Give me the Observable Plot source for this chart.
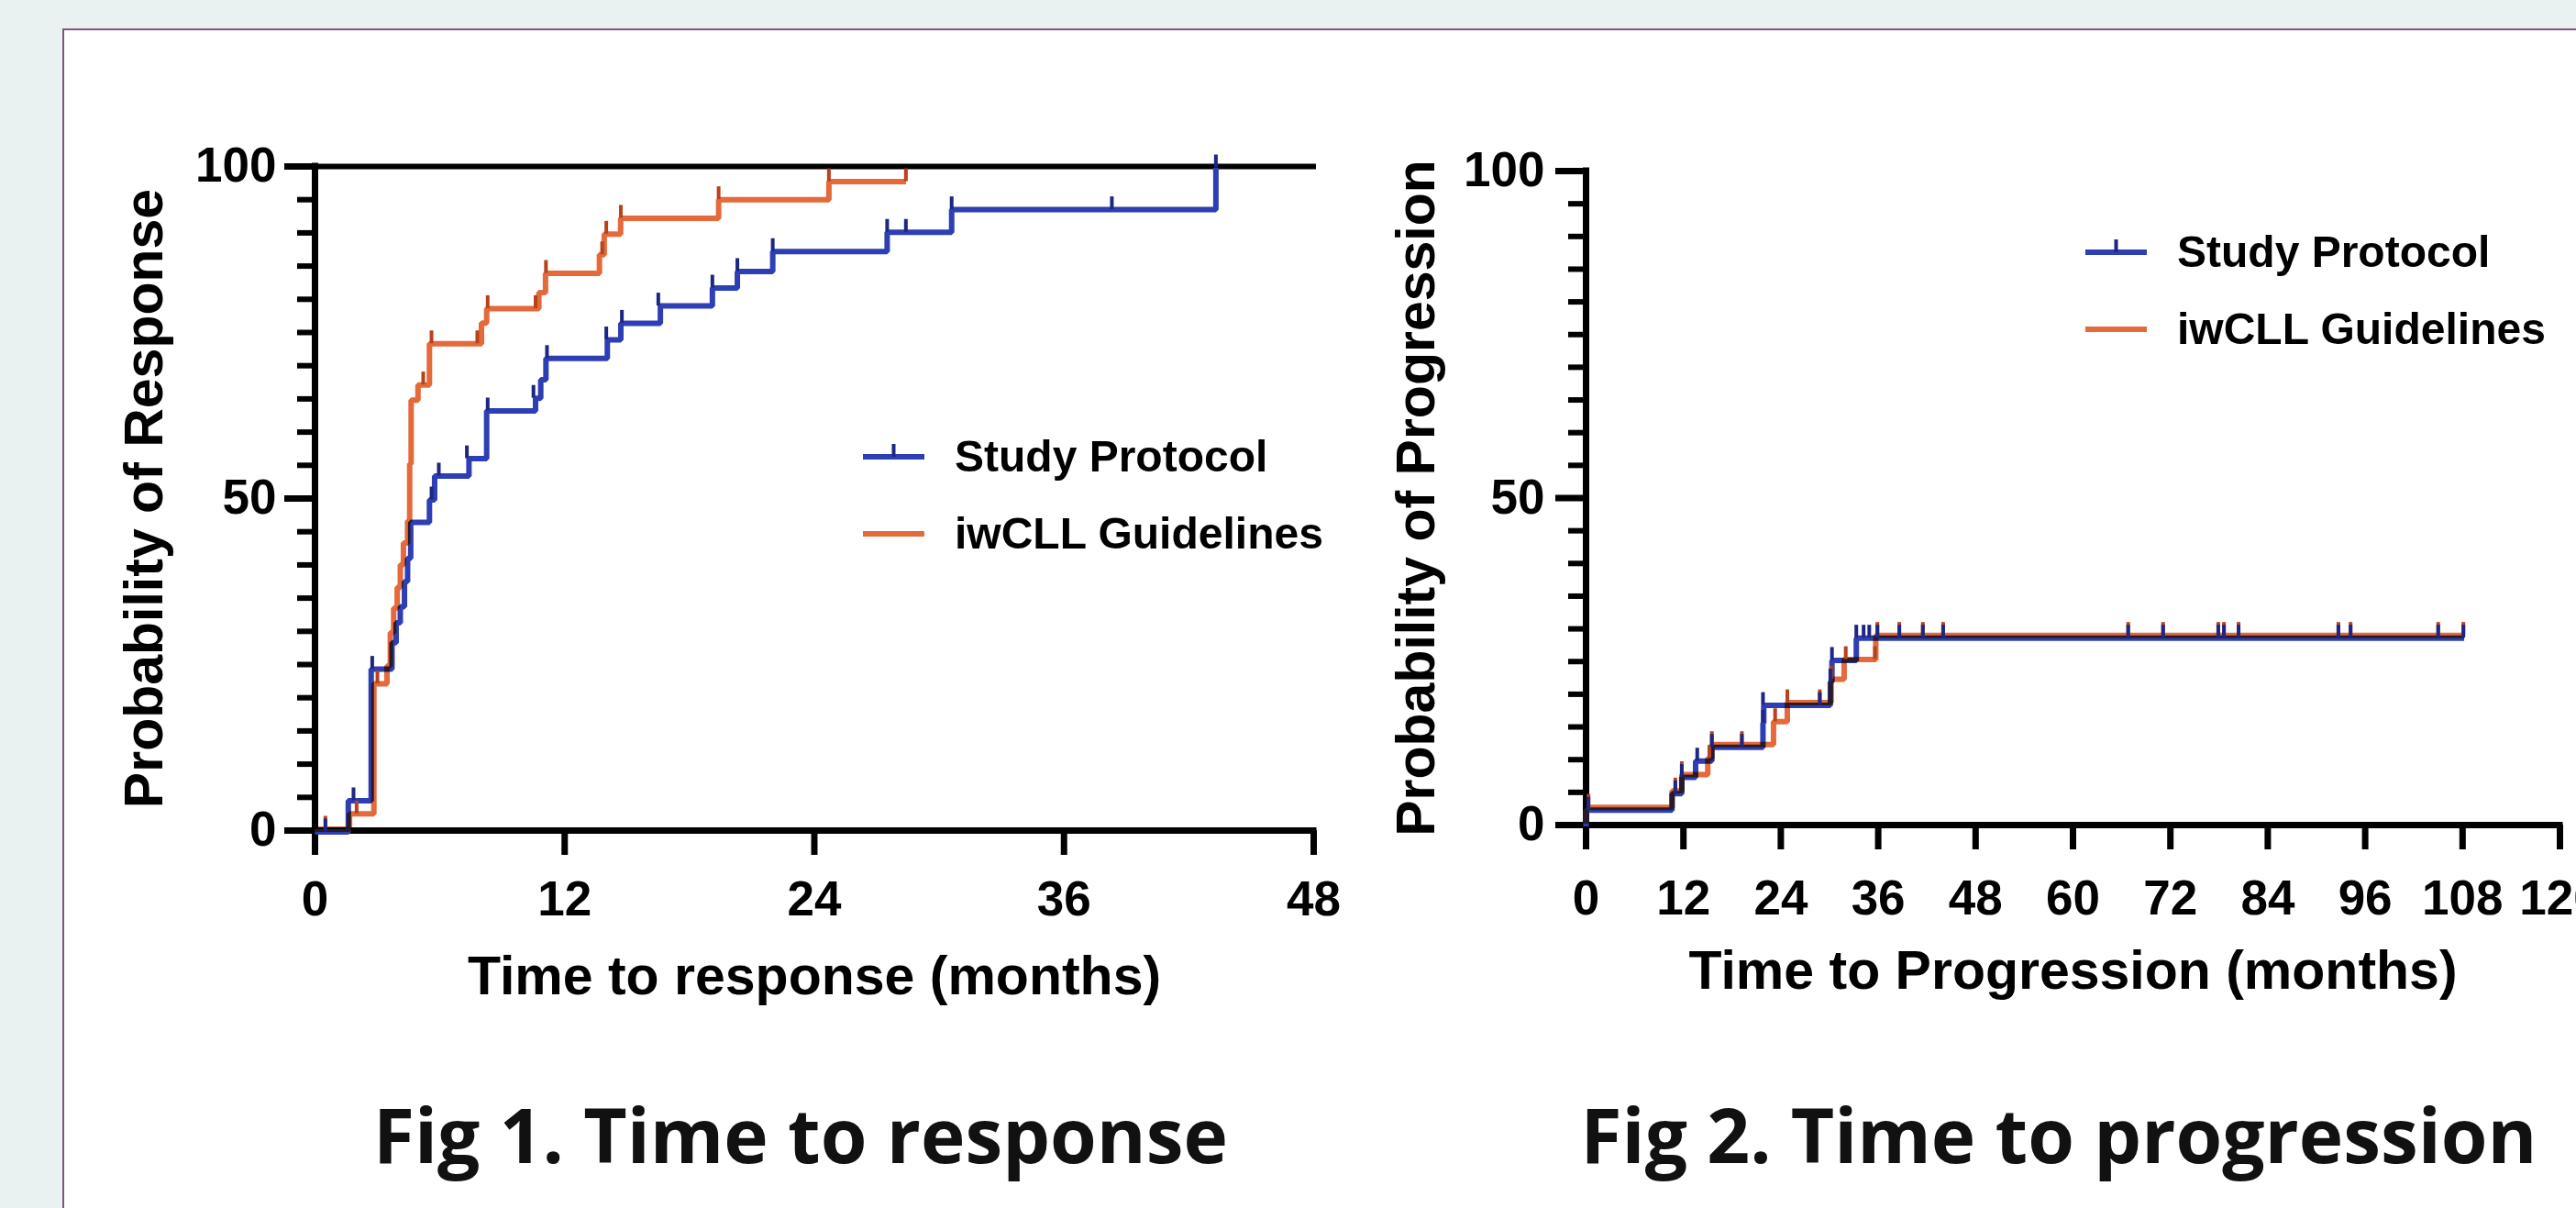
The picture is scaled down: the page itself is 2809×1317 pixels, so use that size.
<!DOCTYPE html>
<html>
<head>
<meta charset="utf-8">
<script src="https://cdn.jsdelivr.net/npm/d3@7"></script>
<script src="https://cdn.jsdelivr.net/npm/@observablehq/plot@0.6"></script>
<style>
  html, body { margin: 0; padding: 0; width: 2809px; height: 1317px; overflow: hidden; background: #e9f2f1; }
  #panel { position: absolute; left: 68px; top: 31px; width: 2800px; height: 1400px; background: #ffffff;
           border-top: 2px solid #7e557e; border-left: 2px solid #7e557e; box-sizing: border-box; }
  .chart { position: absolute; top: 0; }
  .chart svg { max-width: none; overflow: visible; }
  .figtitle { position: absolute; top: 1195px; width: 1200px; text-align: center; font-family: "Open Sans", sans-serif;
              font-weight: 700; font-size: 82px; line-height: 1; color: #111; white-space: nowrap; }
  .legend-item { position: absolute; height: 60px; display: flex; align-items: center; }
  .legend-item span { margin-left: 33px; font-family: "Liberation Sans", Arial, sans-serif; font-weight: bold;
                      font-size: 48px; line-height: 1; color: #000; white-space: nowrap; }
</style>
</head>
<body>
<div id="panel"></div>
<div id="chart1" class="chart" style="left:0px"></div>
<div id="chart2" class="chart" style="left:1400px"></div>
<div id="legends"></div>
<div id="title1" class="figtitle" style="left:273px"></div>
<div id="title2" class="figtitle" style="left:1645px"></div>
<script>
// ---------- text ----------
const seriesNames = ["Study Protocol", "iwCLL Guidelines"];
const figTitles = ["Fig 1. Time to response", "Fig 2. Time to progression"];
const xTitles = ["Time to response (months)", "Time to Progression (months)"];
const yTitles = ["Probability of Response", "Probability of Progression"];

// ---------- ticks ----------
const xTicks1 = [0, 12, 24, 36, 48];
const xTicks2 = [0, 12, 24, 36, 48, 60, 72, 84, 96, 108, 120];
const yMajorTicks = [0, 50, 100];
const yMinorTicks = [5, 10, 15, 20, 25, 30, 35, 40, 45, 55, 60, 65, 70, 75, 80, 85, 90, 95];

// ---------- Fig 1: time to response (steps: month, %) ----------
const spTime1 = [0, 1.6, 2.7, 3.7, 3.9, 4.1, 4.3, 4.45, 4.6, 5.5, 5.75, 7.4, 8.25, 10.6, 10.85, 11.1, 14.05, 14.7, 16.6, 19.1, 20.3, 22.0, 27.5, 30.6, 43.3];
const spProb1 = [0, 4.7, 24.5, 28.5, 31.5, 33.9, 37.7, 41.2, 46.6, 50.0, 53.6, 56.2, 63.4, 65.3, 68.1, 71.3, 74.1, 76.6, 79.2, 81.9, 84.4, 87.4, 90.3, 93.7, 100];
const spCensT1 = [0.5, 1.85, 2.75, 5.6, 5.95, 7.3, 8.3, 10.5, 11.15, 14.0, 14.75, 16.5, 19.1, 20.3, 22.0, 27.5, 28.4, 30.6, 38.3, 43.3];
const spCensP1 = [0, 4.7, 24.5, 50.0, 53.6, 56.2, 63.4, 65.3, 71.3, 74.1, 76.6, 79.2, 81.9, 84.4, 87.4, 90.3, 90.3, 93.7, 93.7, 100];

const iwTime1 = [0, 1.66, 2.83, 3.46, 3.62, 3.78, 3.95, 4.1, 4.25, 4.45, 4.55, 4.62, 4.95, 5.5, 8.0, 8.25, 10.76, 11.08, 13.67, 13.9, 14.69, 19.4, 24.7, 28.4];
const iwProb1 = [0, 2.3, 21.9, 24.6, 29.6, 33.3, 36.4, 39.8, 43.1, 46.4, 55.0, 64.6, 66.9, 73.1, 76.2, 78.4, 80.8, 83.7, 86.5, 89.6, 92.0, 94.8, 97.5, 97.5];
const iwCensT1 = [0.5, 2.0, 3.0, 5.2, 5.6, 7.8, 8.3, 10.6, 11.1, 13.8, 14.0, 14.7, 19.4, 24.7, 28.4];
const iwCensP1 = [0, 2.3, 21.9, 66.9, 73.1, 73.1, 78.4, 78.4, 83.7, 86.5, 89.6, 92.0, 94.8, 97.5, 97.5];

// ---------- Fig 2: time to progression ----------
const spTime2 = [0, 0, 10.6, 11.8, 13.5, 15.5, 21.8, 21.9, 30.1, 30.3, 33.3, 108.2];
const spProb2 = [0, 2.5, 5.0, 7.5, 10.0, 12.1, 15.8, 18.5, 22.1, 25.4, 28.8, 28.8];
const spCensT2 = [0.3, 11.0, 11.8, 13.7, 15.5, 19.2, 21.8, 21.8, 28.8, 30.1, 30.3, 33.3, 34.2, 34.9, 35.9, 38.6, 41.5, 44.0, 66.8, 71.1, 77.9, 78.6, 80.4, 92.7, 94.2, 105.0, 108.1];
const spCensP2 = [2.5, 5.0, 7.5, 10.0, 12.1, 12.1, 15.8, 18.5, 18.5, 22.1, 25.4, 28.8, 28.8, 28.8, 28.8, 28.8, 28.8, 28.8, 28.8, 28.8, 28.8, 28.8, 28.8, 28.8, 28.8, 28.8, 28.8];

const iwTime2 = [0, 0, 10.6, 11.8, 15.0, 15.5, 23.1, 24.8, 30.2, 31.8, 35.7, 108.2];
const iwProb2 = [0, 2.5, 5.0, 7.5, 10.0, 12.1, 15.6, 18.5, 22.1, 25.1, 28.8, 28.8];
const iwCensT2 = [0.3, 11.0, 11.8, 15.2, 15.5, 19.2, 23.3, 24.8, 28.8, 30.2, 32.0, 35.6, 35.9, 38.6, 41.5, 44.0, 66.8, 71.1, 77.9, 78.6, 80.4, 92.7, 94.2, 105.0, 108.1];
const iwCensP2 = [2.5, 5.0, 7.5, 10.0, 12.1, 12.1, 15.6, 18.5, 18.5, 22.1, 25.1, 25.1, 28.8, 28.8, 28.8, 28.8, 28.8, 28.8, 28.8, 28.8, 28.8, 28.8, 28.8, 28.8, 28.8];

// ---------- style ----------
const BLUE = "#2e3fb5", BLUE_DARK = "#1d2783";
const ORANGE = "#e4693b", ORANGE_DARK = "#b8421c";
const AXIS_FONT = "'Liberation Sans', Arial, sans-serif";

const zip = (t, p) => t.map((d, i) => ({t: d, p: p[i]}));

function makeChart(o) {
  const marks = [
    Plot.ruleY([0], {strokeWidth: 7, strokeLinecap: "square"}),
    Plot.ruleX([0], {strokeWidth: 7, strokeLinecap: "square"}),
  ];
  if (o.topRule) marks.push(Plot.ruleY([100], {strokeWidth: 6, strokeLinecap: "square"}));
  marks.push(
    Plot.axisX({ticks: o.xTicks, tickSize: 27, tickPadding: o.xPad, strokeWidth: 7, fontSize: 53, fontWeight: "bold",
                tickFormat: d => String(d), label: null}),
    Plot.axisY({ticks: yMinorTicks, tickSize: 19, strokeWidth: 6, tickFormat: () => "", label: null}),
    Plot.axisY({ticks: yMajorTicks, tickSize: 33, tickPadding: o.yPad, strokeWidth: 7, fontSize: 53, fontWeight: "bold",
                tickFormat: d => String(d), label: null}),
    Plot.text([o.yTitle], {frameAnchor: "left", dx: o.yTitleDx, rotate: -90, textAnchor: "middle", lineAnchor: "middle",
                           fontSize: 59, fontWeight: "bold"}),
    Plot.text([o.xTitle], {frameAnchor: "bottom", dy: 160, textAnchor: "middle", lineAnchor: "middle",
                           fontSize: 59, fontWeight: "bold"}),
    Plot.line(zip(o.spT, o.spP), {x: "t", y: "p", curve: "step-after", stroke: BLUE, strokeWidth: 6,
              strokeLinejoin: "miter", strokeLinecap: "butt", dy: 1.5}),
    Plot.line(zip(o.iwT, o.iwP), {x: "t", y: "p", curve: "step-after", stroke: ORANGE, strokeWidth: 6,
              strokeLinejoin: "miter", strokeLinecap: "butt", dy: -1.5, mixBlendMode: "multiply"}),
    Plot.ruleX(zip(o.iwCT, o.iwCP), {x: "t", y1: "p", y2: "p", insetTop: -14, stroke: ORANGE_DARK, strokeWidth: 4, dy: -1.5}),
    Plot.ruleX(zip(o.spCT, o.spCP), {x: "t", y1: "p", y2: "p", insetTop: -14, stroke: BLUE_DARK, strokeWidth: 4, dy: 1.5})
  );
  return Plot.plot({
    width: o.width, height: 1120,
    marginLeft: o.ml, marginRight: o.mr, marginTop: o.mt, marginBottom: 1120 - o.y0,
    x: {domain: o.xDomain, label: null},
    y: {domain: [0, 100], label: null},
    style: {fontFamily: AXIS_FONT, background: "transparent", overflow: "visible", color: "#000"},
    marks
  });
}

document.getElementById("chart1").appendChild(makeChart({
  width: 1480, ml: 343, mr: 48, mt: 181, y0: 905, xDomain: [0, 48], xTicks: xTicks1, topRule: true,
  xPad: 28, yPad: 9, yTitleDx: -185, yTitle: yTitles[0], xTitle: xTitles[0],
  spT: spTime1, spP: spProb1, spCT: spCensT1, spCP: spCensP1,
  iwT: iwTime1, iwP: iwProb1, iwCT: iwCensT1, iwCP: iwCensP1
}));
document.getElementById("chart2").appendChild(makeChart({
  width: 1409, ml: 329, mr: 18, mt: 186, y0: 899, xDomain: [0, 120], xTicks: xTicks2, topRule: false,
  xPad: 33, yPad: 12, yTitleDx: -184, yTitle: yTitles[1], xTitle: xTitles[1],
  spT: spTime2, spP: spProb2, spCT: spCensT2, spCP: spCensP2,
  iwT: iwTime2, iwP: iwProb2, iwCT: iwCensT2, iwCP: iwCensP2
}));

document.getElementById("title1").textContent = figTitles[0];
document.getElementById("title2").textContent = figTitles[1];

// ---------- legends ----------
function legendItem(left, cy, color, name, withTick) {
  const div = document.createElement("div");
  div.className = "legend-item";
  div.style.left = left + "px";
  div.style.top = (cy - 30) + "px";
  const ns = "http://www.w3.org/2000/svg";
  const svg = document.createElementNS(ns, "svg");
  svg.setAttribute("width", 67); svg.setAttribute("height", 60);
  const ln = document.createElementNS(ns, "line");
  ln.setAttribute("x1", 0); ln.setAttribute("x2", 67); ln.setAttribute("y1", 30); ln.setAttribute("y2", 30);
  ln.setAttribute("stroke", color); ln.setAttribute("stroke-width", 6);
  svg.appendChild(ln);
  if (withTick) {
    const tk = document.createElementNS(ns, "line");
    tk.setAttribute("x1", 33.5); tk.setAttribute("x2", 33.5); tk.setAttribute("y1", 16); tk.setAttribute("y2", 30);
    tk.setAttribute("stroke", BLUE_DARK); tk.setAttribute("stroke-width", 4);
    svg.appendChild(tk);
  }
  div.appendChild(svg);
  const span = document.createElement("span");
  span.textContent = name;
  div.appendChild(span);
  document.getElementById("legends").appendChild(div);
}
legendItem(941, 498, BLUE, seriesNames[0], true);
legendItem(941, 582, ORANGE, seriesNames[1], false);
legendItem(2274, 275, BLUE, seriesNames[0], true);
legendItem(2274, 359, ORANGE, seriesNames[1], false);
</script>
</body>
</html>
